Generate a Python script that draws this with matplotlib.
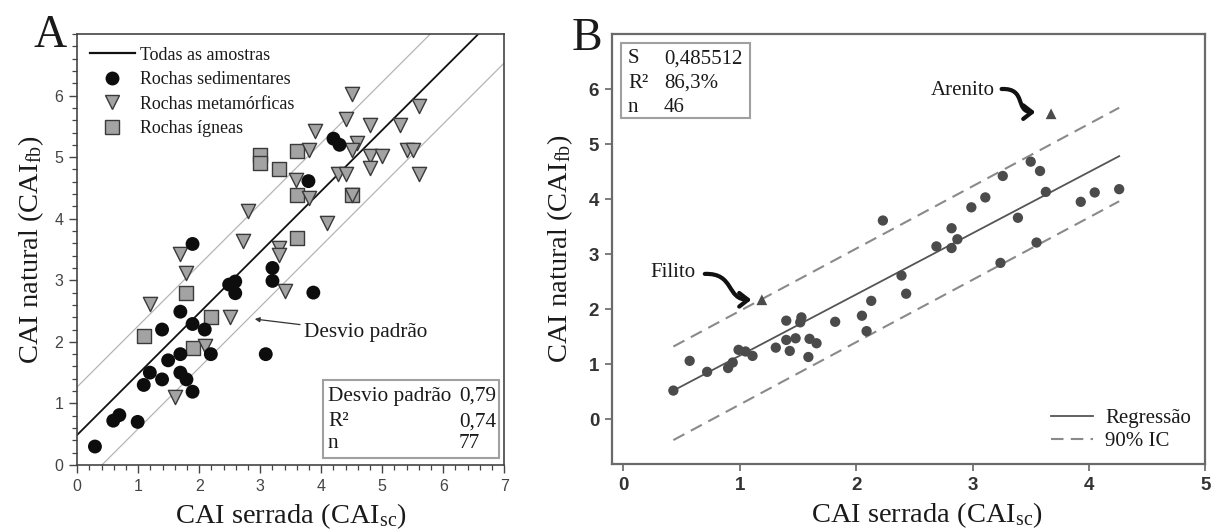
import matplotlib
matplotlib.use("Agg")
import matplotlib.pyplot as plt
from matplotlib.lines import Line2D
from matplotlib.patches import Rectangle, FancyArrowPatch
from matplotlib.path import Path
from matplotlib.ticker import MultipleLocator
from matplotlib import font_manager
import numpy as np

# ---------------- data: panel A ----------------
sed_x = [4.2, 4.3, 3.79, 1.89, 2.59, 2.49, 2.59, 3.2, 3.2, 3.87, 1.69, 1.39, 1.89, 2.09,
         2.19, 3.09, 1.69, 1.49, 1.19, 1.69, 1.79, 1.39, 1.09, 1.89, 0.69, 0.59, 0.99, 0.29]
sed_y = [5.3, 5.2, 4.61, 3.59, 2.98, 2.93, 2.79, 3.2, 2.99, 2.8, 2.49, 2.2, 2.29, 2.2,
         1.8, 1.8, 1.8, 1.7, 1.5, 1.5, 1.39, 1.39, 1.3, 1.19, 0.81, 0.72, 0.7, 0.3]

met_x = [4.5, 5.6, 4.4, 4.8, 5.29, 3.9, 4.59, 3.8, 4.5, 5.4, 5.51, 4.8, 5.0, 4.8, 5.6, 4.28,
         4.4, 3.59, 3.8, 4.5, 4.1, 2.8, 2.71, 3.31, 3.31, 1.68, 1.79, 3.4, 1.19, 2.5, 2.09, 1.6]
met_y = [6.02, 5.83, 5.62, 5.52, 5.52, 5.42, 5.23, 5.12, 5.12, 5.12, 5.12, 5.02, 5.02, 4.82,
         4.72, 4.72, 4.72, 4.63, 4.34, 4.39, 3.93, 4.12, 3.63, 3.52, 3.41, 3.43, 3.12, 2.82,
         2.61, 2.41, 1.93, 1.11]

ign_x = [3.0, 3.0, 3.6, 3.3, 3.6, 4.5, 3.6, 1.79, 2.19, 1.1, 1.89]
ign_y = [5.04, 4.9, 5.1, 4.8, 4.39, 4.39, 3.69, 2.8, 2.4, 2.1, 1.9]

fit_a_intercept = 0.49
fit_a_slope = 0.99
dev_upper_intercept = 1.27
dev_lower_intercept = -0.40

legend_a_labels = ["Todas as amostras", "Rochas sedimentares", "Rochas metamórficas", "Rochas ígneas"]
stats_a_labels = ["Desvio padrão", "R²", "n"]
stats_a_values = ["0,79", "0,74", "77"]

# ---------------- data: panel B ----------------
b_x = [3.50, 3.58, 3.26, 3.63, 4.26, 4.05, 3.93, 3.11, 2.99, 3.39, 2.23, 2.82, 2.69, 2.87,
       2.82, 3.55, 3.24, 2.39, 2.43, 2.13, 2.05, 2.09, 1.82, 1.40, 1.53, 1.52, 1.40, 1.48,
       1.60, 1.66, 1.43, 1.31, 1.59, 0.99, 1.05, 1.11, 0.94, 0.90, 0.57, 0.72, 0.43]
b_y = [4.68, 4.51, 4.42, 4.13, 4.18, 4.12, 3.95, 4.03, 3.85, 3.66, 3.61, 3.47, 3.14, 3.27,
       3.11, 3.21, 2.84, 2.61, 2.28, 2.15, 1.88, 1.60, 1.77, 1.79, 1.85, 1.76, 1.44, 1.47,
       1.46, 1.38, 1.24, 1.30, 1.13, 1.26, 1.23, 1.15, 1.03, 0.93, 1.06, 0.86, 0.52]

out_x = [1.19, 3.675]
out_y = [2.17, 5.55]
out_names = ["Filito", "Arenito"]

reg_x = [0.43, 4.26]
reg_y = [0.52, 4.78]
ci_up_y = [1.32, 5.66]
ci_lo_y = [-0.38, 3.96]

legend_b_labels = ["Regressão", "90% IC"]
stats_b_labels = ["S", "R²", "n"]
stats_b_values = ["0,485512", "86,3%", "46"]

# ---------------- style ----------------
SERIF = "Liberation Serif"
names = {f.name for f in font_manager.fontManager.ttflist}
BTICK = "Liberation Sans Narrow" if "Liberation Sans Narrow" in names else "Liberation Sans"
plt.rcParams["font.family"] = [SERIF, "DejaVu Sans"]
plt.rcParams["mathtext.fontset"] = "custom"
plt.rcParams["mathtext.rm"] = SERIF
plt.rcParams["mathtext.it"] = SERIF + ":italic"
TXT = "#1a1a1a"
LABEL_FS = 20.5

fig = plt.figure(figsize=(12.11, 5.31), dpi=100)
axA = fig.add_axes([0.0638, 0.1243, 0.3526, 0.8117])
axB = fig.add_axes([0.5051, 0.1256, 0.4902, 0.8104])

# ================= Panel A =================
xx = np.array([0.0, 7.0])
axA.plot(xx, fit_a_intercept + fit_a_slope * xx, color="#111111", lw=1.3, zorder=2)
axA.plot(xx, dev_upper_intercept + fit_a_slope * xx, color="#b5b5b5", lw=0.9, zorder=1)
axA.plot(xx, dev_lower_intercept + fit_a_slope * xx, color="#b5b5b5", lw=0.9, zorder=1)

axA.scatter(ign_x, ign_y, marker="s", s=105, facecolor="#a3a3a3", edgecolor="#3a3a3a",
            linewidth=1.0, zorder=3)
axA.scatter(met_x, met_y, marker="v", s=105, facecolor="#a3a3a3", edgecolor="#3a3a3a",
            linewidth=1.0, zorder=4)
axA.scatter(sed_x, sed_y, marker="o", s=100, facecolor="#0d0d0d", edgecolor="none", zorder=5)

axA.set_xlim(0, 7)
axA.set_ylim(0, 7)
axA.set_xticks(range(0, 8))
axA.set_yticks(range(0, 7))
axA.xaxis.set_minor_locator(MultipleLocator(0.2))
axA.yaxis.set_minor_locator(MultipleLocator(0.2))
axA.tick_params(which="major", direction="out", length=6, width=1.0, color="#444444",
                labelsize=11.5, labelcolor="#444444", pad=4)
axA.tick_params(which="minor", direction="out", length=3.5, width=0.9, color="#444444")
for lab in axA.get_xticklabels() + axA.get_yticklabels():
    lab.set_family("Liberation Sans")
for sp in axA.spines.values():
    sp.set_color("#444444")
    sp.set_linewidth(1.2)

axA.set_xlabel(r"CAI serrada (CAI$_{\mathrm{sc}}$)", fontsize=LABEL_FS, color=TXT)
axA.set_ylabel(r"CAI natural (CAI$_{\mathrm{fb}}$)", fontsize=LABEL_FS, color=TXT)
axA.xaxis.set_label_coords(0.5, -0.083)
axA.yaxis.set_label_coords(-0.073, 0.5)

handles_a = [
    Line2D([], [], color="#111111", lw=1.6),
    Line2D([], [], marker="o", ls="none", ms=10, mfc="#0d0d0d", mec="none"),
    Line2D([], [], marker="v", ls="none", ms=10, mfc="#a3a3a3", mec="#3a3a3a", mew=1.0),
    Line2D([], [], marker="s", ls="none", ms=10, mfc="#a3a3a3", mec="#3a3a3a", mew=1.0),
]
legA = axA.legend(handles_a, legend_a_labels, loc="upper left", bbox_to_anchor=(0.0, 1.0),
                  frameon=False, prop={"family": SERIF, "size": 12.9}, handlelength=2.5,
                  handletextpad=0.3, labelspacing=0.42, borderaxespad=0.3)
for t in legA.get_texts():
    t.set_color(TXT)

# stats box A
axA.add_patch(Rectangle((0.575, 0.016), 0.413, 0.181, transform=axA.transAxes,
                        facecolor="white", edgecolor="#a0a0a0", lw=1.5, zorder=6))
row_y = [0.160, 0.100, 0.051]
for lab, val, yy in zip(stats_a_labels, stats_a_values, row_y):
    axA.text(0.587, yy, lab, transform=axA.transAxes, fontsize=15.3, color=TXT,
             va="center", ha="left", zorder=7)
    axA.text(0.894, yy, val, transform=axA.transAxes, fontsize=15.3, color=TXT,
             va="center", ha="left", zorder=7)

# "Desvio padrão" annotation
axA.annotate("Desvio padrão", xy=(2.91, 2.37), xytext=(3.72, 2.15), textcoords="data",
             fontsize=15.3, color=TXT, va="center", ha="left",
             arrowprops=dict(arrowstyle="-|>", color="#333333", lw=0.9,
                             mutation_scale=7, shrinkA=1, shrinkB=0))

# ================= Panel B =================
axB.plot(reg_x, reg_y, color="#555555", lw=1.3, zorder=2)
axB.plot(reg_x, ci_up_y, color="#8a8a8a", lw=1.5, ls=(0, (6, 3.5)), zorder=2)
axB.plot(reg_x, ci_lo_y, color="#8a8a8a", lw=1.5, ls=(0, (6, 3.5)), zorder=2)
axB.scatter(b_x, b_y, marker="o", s=55, facecolor="#4b4b4b", edgecolor="none", zorder=3)
axB.scatter(out_x, out_y, marker="^", s=60, facecolor="#4b4b4b", edgecolor="none", zorder=3)

axB.set_xlim(-0.1, 5.0)
axB.set_ylim(-0.82, 7.0)
axB.set_xticks(range(0, 6))
axB.set_yticks(range(0, 7))
axB.tick_params(direction="out", length=5, width=1.2, color="#666666", labelsize=13.5,
                labelcolor="#333333", pad=4)
for lab in axB.get_xticklabels() + axB.get_yticklabels():
    lab.set_family(BTICK)
    lab.set_weight("bold")
for sp in axB.spines.values():
    sp.set_color("#6a6a6a")
    sp.set_linewidth(1.6)

axB.set_xlabel(r"CAI serrada (CAI$_{\mathrm{sc}}$)", fontsize=LABEL_FS, color=TXT)
axB.set_ylabel(r"CAI natural (CAI$_{\mathrm{fb}}$)", fontsize=LABEL_FS, color=TXT)
axB.xaxis.set_label_coords(0.531, -0.083)
axB.yaxis.set_label_coords(-0.062, 0.5)

handles_b = [
    Line2D([], [], color="#555555", lw=1.3),
    Line2D([], [], color="#8a8a8a", lw=1.5, ls=(0, (6, 3.5))),
]
legB = axB.legend(handles_b, legend_b_labels, loc="lower right", bbox_to_anchor=(0.99, 0.012),
                  frameon=False, prop={"family": SERIF, "size": 15}, handlelength=2.0,
                  handletextpad=0.6, labelspacing=0.15, borderaxespad=0.0)
for t in legB.get_texts():
    t.set_color(TXT)

# stats box B
axB.add_patch(Rectangle((0.0157, 0.804), 0.2173, 0.174, transform=axB.transAxes,
                        facecolor="white", edgecolor="#a0a0a0", lw=1.5, zorder=6))
row_yb = [0.942, 0.886, 0.830]
for lab, val, yy in zip(stats_b_labels, stats_b_values, row_yb):
    axB.text(0.0275, yy, lab, transform=axB.transAxes, fontsize=15, color=TXT,
             va="center", ha="left", zorder=7)
    axB.text(0.088, yy, val, transform=axB.transAxes, fontsize=15, color=TXT,
             va="center", ha="left", zorder=7)

# outlier labels with curly arrows
label_pos = {"Filito": (0.23, 2.67), "Arenito": (2.64, 5.97)}
tails = {"Filito": (0.70, 2.64), "Arenito": (3.25, 6.0)}
tips = {"Filito": (1.10, 2.17), "Arenito": (3.54, 5.58)}
for nm in out_names:
    tx, ty = label_pos[nm]
    axB.text(tx, ty, nm, fontsize=15, color=TXT, va="center", ha="left")
    (x0, y0), (x3, y3) = tails[nm], tips[nm]
    p = Path([(x0, y0), (x0 + 0.35 * (x3 - x0) + 0.12, y0 + 0.02),
              (x3 - 0.35 * (x3 - x0) - 0.08, y3), (x3, y3)],
             [Path.MOVETO, Path.CURVE4, Path.CURVE4, Path.CURVE4])
    arr = FancyArrowPatch(path=p, arrowstyle="->,head_length=0.45,head_width=0.35",
                          mutation_scale=14, lw=3.0, color="#111111",
                          transform=axB.transData, zorder=5)
    axB.add_patch(arr)

# panel letters
fig.text(0.028, 0.912, "A", fontsize=33, color=TXT, family=SERIF, va="baseline", ha="left")
fig.text(0.472, 0.905, "B", fontsize=33, color=TXT, family=SERIF, va="baseline", ha="left")

fig.savefig("out.png", dpi=100)
